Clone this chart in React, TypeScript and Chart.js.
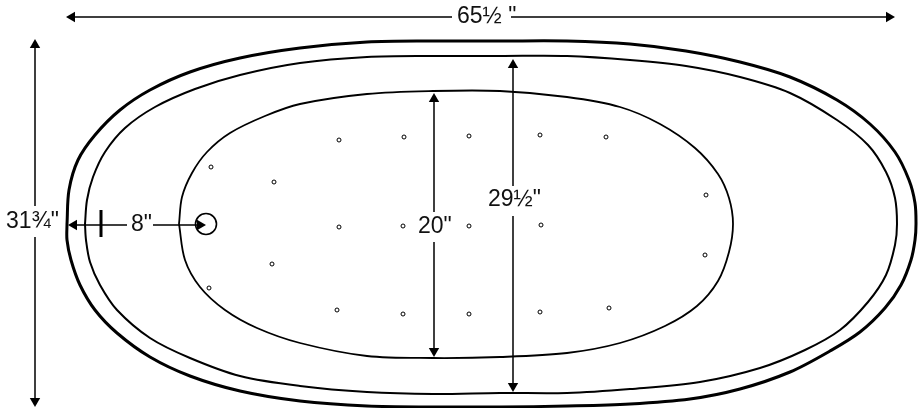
import React, { useEffect, useRef } from "react";
import { Chart, registerables } from "chart.js";

Chart.register(...registerables);

const outerX = [67,69,78,95,120,150,190,240,300,367,433,500,567,630,686,740,790,837,870,895,909,915,916,915,911,901,885,860,830,790,740,690,630,567,500,433,367,300,240,190,150,117,95,80,71,67,67];
const outerY = [224,190,160,135,110,90,72,58,48,42,41,41,41,44,51,62,77,100,124,152,180,203,224,240,260,285,308,332,351,372,389,399,404,406,407,407,406,401,391,376,357,333,310,285,260,240,224];

const ringX = [85,87,93,105,125,155,195,240,300,367,433,500,567,630,686,740,790,837,868,886,895,897,895,886,868,840,805,760,700,630,567,500,433,367,300,240,190,150,117,100,90,86,85];
const ringY = [224,200,177,152,128,107,89,75,63,57,56,56,56,60,66,77,93,120,145,172,198,224,245,275,302,330,350,368,382,389,393,393,394,392,386,376,358,338,310,285,262,240,224];

const innerX = [179,182,192,207,230,265,300,367,433,500,567,620,660,695,718,729,733,729,718,697,665,620,567,500,433,367,300,257,225,200,185,179];
const innerY = [224,197,173,152,133,116,104,94,91,91,97,107,124,148,174,198,224,252,281,306,326,343,353,357,358,356,343,328,310,287,260,224];

const holeX = [211,274,339,404,469,540,606,706,272,209,339,403,469,541,337,403,469,540,609,705];
const holeY = [167,182,140,137,136,135,137,195,264,288,227,226,226,225,310,314,314,312,308,255];

const drainX = [206];
const drainY = [224];

const widthLineX = [72,452,null,511,889];
const widthLineY = [17,17,null,17,17];
const heightLineX = [35,35,null,35,35];
const heightLineY = [45,206,null,237,401];
const drainLineX = [74,127,null,153,200];
const drainLineY = [225,225,null,225,225];
const rimTickX = [101,101];
const rimTickY = [210,237];
const basinLineX = [434,434,null,434,434];
const basinLineY = [99,212,null,242,351];
const rimLineX = [513,513,null,513,513];
const rimLineY = [65,186,null,216,386];

const arrowUpX = [35,434,513];
const arrowUpY = [45,99,65];
const arrowDownX = [35,434,513];
const arrowDownY = [401,351,386];
const arrowLeftX = [72,74];
const arrowLeftY = [17,225];
const arrowRightX = [889,200];
const arrowRightY = [17,225];

const labels = ['65½ "', '31¾"', '8"', '20"', '29½"'];
const labelX = [457, 6, 131, 418, 488];
const labelY = [17, 222, 225, 227, 200];

const pts = (xs: (number | null)[], ys: (number | null)[]) => xs.map((x, i) => ({ x, y: ys[i] }));

const line = (xs: (number | null)[], ys: (number | null)[], width: number, tension = 0) => ({
  type: "scatter" as const,
  data: pts(xs, ys),
  showLine: true,
  borderColor: "#000",
  borderWidth: width,
  tension,
  pointRadius: 0,
  fill: false,
  spanGaps: false,
});

const arrows = (xs: number[], ys: number[], rotation: number) => ({
  type: "scatter" as const,
  data: pts(xs, ys),
  showLine: false,
  pointStyle: "triangle",
  pointRadius: 6,
  pointRotation: rotation,
  backgroundColor: "#000",
  borderColor: "#000",
  borderWidth: 0,
});

const textPlugin = {
  id: "dimensionText",
  afterDatasetsDraw(chart: any) {
    const { ctx, scales } = chart;
    ctx.save();
    ctx.fillStyle = "#111";
    ctx.font = '23px "Liberation Sans", Arial, sans-serif';
    ctx.textAlign = "left";
    ctx.textBaseline = "middle";
    labels.forEach((t, i) => {
      ctx.fillText(t, scales.x.getPixelForValue(labelX[i]), scales.y.getPixelForValue(labelY[i]));
    });
    ctx.restore();
  },
};

export default function App() {
  const ref = useRef<HTMLCanvasElement>(null);
  useEffect(() => {
    document.body.style.margin = "0";
    document.body.style.background = "#fff";
    const chart = new Chart(ref.current!, {
      type: "scatter",
      data: {
        datasets: [
          line(outerX, outerY, 3, 0.33),
          line(ringX, ringY, 2, 0.33),
          line(innerX, innerY, 1.8, 0.33),
          line(widthLineX, widthLineY, 1.5),
          line(heightLineX, heightLineY, 1.5),
          line(drainLineX, drainLineY, 1.5),
          line(rimTickX, rimTickY, 3),
          line(basinLineX, basinLineY, 1.5),
          line(rimLineX, rimLineY, 1.5),
          arrows(arrowUpX, arrowUpY, 0),
          arrows(arrowDownX, arrowDownY, 180),
          arrows(arrowLeftX, arrowLeftY, 270),
          arrows(arrowRightX, arrowRightY, 90),
          {
            type: "scatter" as const,
            data: pts(holeX, holeY),
            showLine: false,
            pointRadius: 2,
            backgroundColor: "#fff",
            borderColor: "#000",
            borderWidth: 1,
          },
          {
            type: "scatter" as const,
            data: pts(drainX, drainY),
            showLine: false,
            pointRadius: 10.5,
            backgroundColor: "rgba(0,0,0,0)",
            borderColor: "#000",
            borderWidth: 1.6,
          },
        ] as any,
      },
      options: {
        animation: false,
        responsive: false,
        devicePixelRatio: 1,
        layout: { padding: 0, autoPadding: false },
        plugins: { legend: { display: false }, tooltip: { enabled: false }, title: { display: false } },
        scales: {
          x: { type: "linear", min: 0, max: 919, display: false },
          y: { type: "linear", min: 0, max: 408, reverse: true, display: false },
        },
      },
      plugins: [textPlugin],
    });
    return () => chart.destroy();
  }, []);
  return <canvas ref={ref} width={919} height={408} style={{ display: "block" }} />;
}
